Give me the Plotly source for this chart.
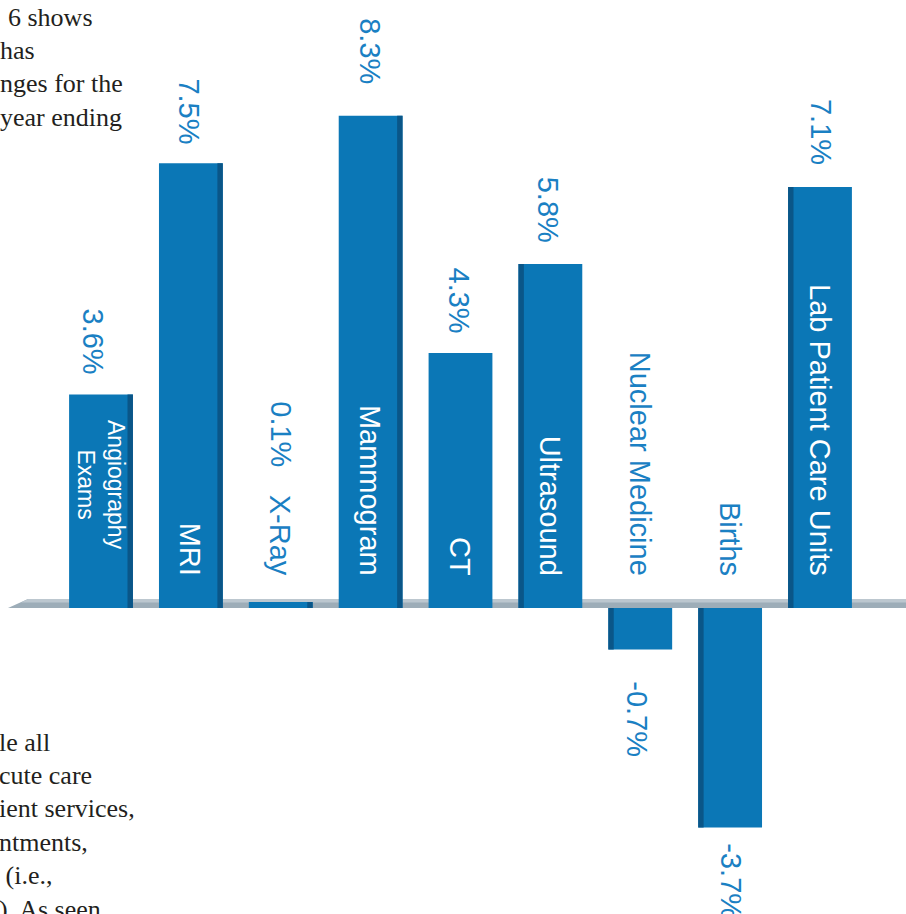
import plotly.graph_objects as go

# ---------------- data ----------------
categories = ["Angiography<br>Exams", "MRI", "X-Ray", "Mammogram", "CT",
              "Ultrasound", "Nuclear Medicine", "Births", "Lab Patient Care Units"]
values = [3.6, 7.5, 0.1, 8.3, 4.3, 5.8, -0.7, -3.7, 7.1]
value_labels = ["3.6%", "7.5%", "0.1%", "8.3%", "4.3%", "5.8%", "-0.7%", "-3.7%", "7.1%"]
label_inside = [True, True, False, True, True, True, False, False, True]

top_text = ["6 shows", "has", "nges for the", "year ending"]
bottom_text = ["le all", "cute care", "ient services,", "ntments,", " (i.e.,", "). As seen"]

# ---------------- styles ----------------
W, H = 906, 914
FRONT = "#0b77b6"
SIDE = "#0a5688"
LABEL_BLUE = "#1a80c3"
SANS = "Liberation Sans, Arial, sans-serif"
SERIF = "Liberation Serif, Times New Roman, serif"

n = len(categories)
xs = list(range(n))
bar_w = 0.71
side_w = 0.06
# dark side face: right edge for bars left of centre, left edge for bars right of centre
side_offset = []
side_opacity = []
for i in range(n):
    if i < 4:
        side_offset.append(bar_w / 2 - side_w)
        side_opacity.append(1)
    elif i > 4:
        side_offset.append(-bar_w / 2)
        side_opacity.append(1)
    else:
        side_offset.append(-bar_w / 2)
        side_opacity.append(0)

fig = go.Figure()
fig.add_trace(go.Bar(x=xs, y=values, width=bar_w, marker=dict(color=FRONT, line=dict(width=0)),
                     hoverinfo="skip"))
fig.add_trace(go.Bar(x=xs, y=values, width=side_w, offset=side_offset,
                     marker=dict(color=SIDE, opacity=side_opacity, line=dict(width=0)),
                     hoverinfo="skip"))

# axis scaling: 1 category = 89.875 px, first centre at x=101 px; 59.3 px per %, zero at y=608 px
px_per_cat = 89.875
x0 = -101 / px_per_cat
x1 = x0 + W / px_per_cat
px_per_pct = 59.3
y_top = 608 / px_per_pct
y_bot = -(H - 608) / px_per_pct

annotations = []
cat_shift = [56, 30, 30, 30, 30, 30, 30, 30, 30]
cat_size = [23, 29, 29, 29, 29, 29, 29, 29, 29]
val_xshift = [-8, -2, 0, 0, -2, -2, -3, 0, 1]
val_yshift = [18, 17, 139, 30, 18, 19, -30, -14, 20]
for i in range(n):
    v = values[i]
    # category label
    annotations.append(dict(
        x=xs[i], y=0, xref="x", yref="y", text=categories[i], showarrow=False,
        textangle=90, xanchor="center", yanchor="bottom", yshift=cat_shift[i],
        font=dict(family=SANS, size=cat_size[i], color="white" if label_inside[i] else LABEL_BLUE),
    ))
    # value label
    if v >= 0 and not label_inside[i]:
        ya, yv = "bottom", 0
    elif v >= 0:
        ya, yv = "bottom", v
    else:
        ya, yv = "top", v
    annotations.append(dict(x=xs[i], y=yv, xref="x", yref="y", text=value_labels[i], showarrow=False,
                            textangle=90, xanchor="center", yanchor=ya, yshift=val_yshift[i],
                            xshift=val_xshift[i],
                            font=dict(family=SANS, size=29, color=LABEL_BLUE)))

# background document text (serif)
line_gap = 33.4
for j, t in enumerate(top_text):
    baseline = 25 + j * line_gap
    annotations.append(dict(x=0, y=1 - (baseline - 8) / H, xref="paper", yref="paper", text=t,
                            showarrow=False, xanchor="left", yanchor="middle",
                            xshift=(6 if j == 0 else -2),
                            font=dict(family=SERIF, size=26, color="#231f20")))
for j, t in enumerate(bottom_text):
    baseline = 750 + j * line_gap
    annotations.append(dict(x=0, y=1 - (baseline - 8) / H, xref="paper", yref="paper", text=t,
                            showarrow=False, xanchor="left", yanchor="middle", xshift=-3,
                            font=dict(family=SERIF, size=26, color="#231f20")))

# grey base plank (decoration), drawn behind the bars
plank_h = 9 / px_per_pct
shapes = [
    dict(type="path", xref="paper", yref="y", layer="below", line=dict(width=0),
         fillcolor="#9dadb8",
         path=f"M {8/W},0 L 1,0 L 1,{plank_h} L {28/W},{plank_h} Z"),
    dict(type="path", xref="paper", yref="y", layer="below", line=dict(width=0),
         fillcolor="#bcc7cf",
         path=f"M {21/W},{plank_h*0.6} L 1,{plank_h*0.6} L 1,{plank_h} L {28/W},{plank_h} Z"),
]

fig.update_layout(
    width=W, height=H, margin=dict(l=0, r=0, t=0, b=0),
    paper_bgcolor="white", plot_bgcolor="white", showlegend=False,
    barmode="overlay",
    xaxis=dict(range=[x0, x1], visible=False, fixedrange=True),
    yaxis=dict(range=[y_bot, y_top], visible=False, fixedrange=True),
    annotations=annotations, shapes=shapes,
)

fig.write_html("out.html")
